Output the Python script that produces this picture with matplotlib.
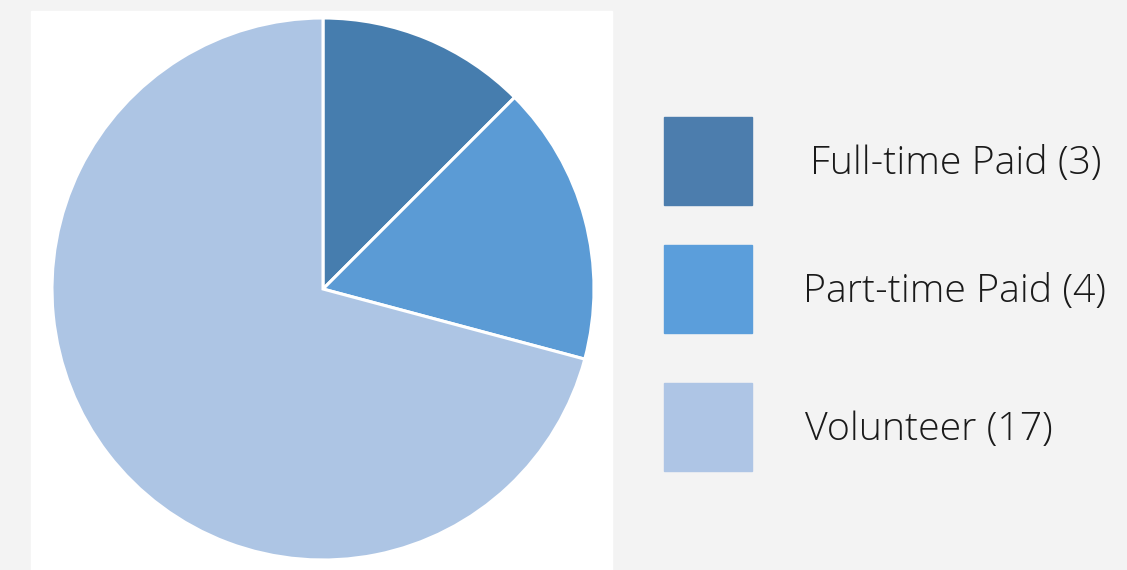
import matplotlib.pyplot as plt
from matplotlib.patches import Rectangle

labels = ["Full-time Paid (3)", "Part-time Paid (4)", "Volunteer (17)"]
counts = [3, 4, 17]
slice_colors = ["#467dae", "#5b9bd5", "#adc5e4"]
key_colors = ["#4c7dad", "#5b9edb", "#aec5e5"]

W, H = 1127, 570
fig = plt.figure(figsize=(W / 100, H / 100), dpi=100)
fig.patch.set_facecolor("#f3f3f3")

# white panel behind the pie
fig.add_artist(Rectangle((31 / W, 0), (612 - 31) / W, (570 - 11) / H,
                         transform=fig.transFigure, color="white", zorder=0))

cx, cy, r = 323, H - 289, 271
ax = fig.add_axes([(cx - r) / W, (cy - r) / H, 2 * r / W, 2 * r / H])
ax.pie(counts, colors=slice_colors, startangle=90, counterclock=False,
       wedgeprops=dict(edgecolor="white", linewidth=2.2))
ax.set_aspect("equal")
ax.set_xlim(-1.0, 1.0)
ax.set_ylim(-1.0, 1.0)
ax.axis("off")

# legend
rows_y = [161, 289, 427]
text_x = [810, 803, 805]
for lab, col, yy, tx in zip(labels, key_colors, rows_y, text_x):
    fig.add_artist(Rectangle((664 / W, (H - yy - 44) / H), 88 / W, 88 / H,
                             transform=fig.transFigure, color=col))
    fig.text(tx / W, (H - yy - 3) / H, lab, ha="left", va="center",
             fontsize=28.3, family="Open Sans", fontweight="light", color="#1a1a1a")

fig.savefig("out.png", dpi=100, facecolor=fig.get_facecolor())
